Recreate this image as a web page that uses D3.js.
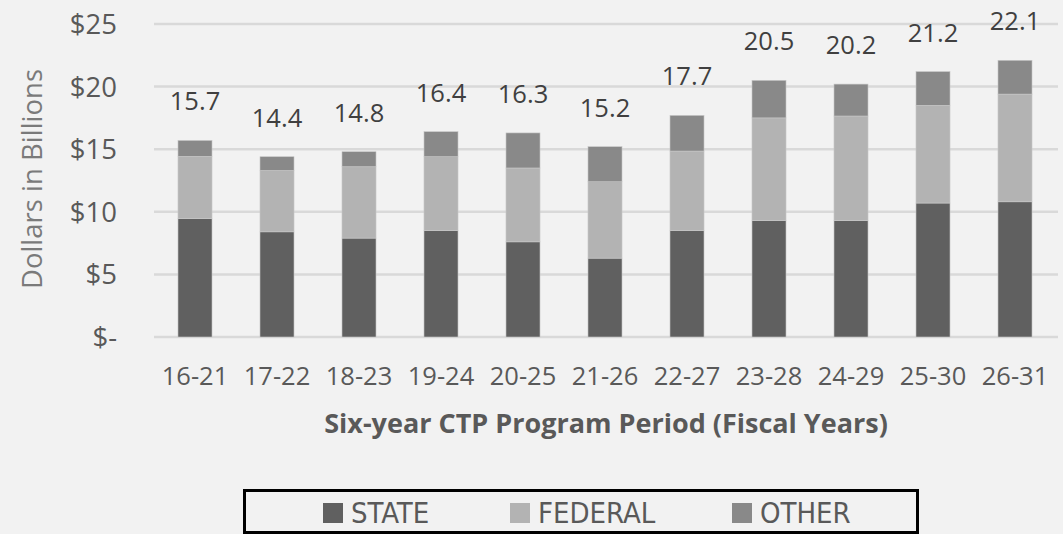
<!DOCTYPE html>
<html>
<head>
<meta charset="utf-8">
<script src="https://cdnjs.cloudflare.com/ajax/libs/d3/7.8.5/d3.min.js"></script>
<style>
  html, body { margin: 0; padding: 0; background: #f2f2f2; }
  svg { display: block; }
</style>
</head>
<body>
<svg id="chart" width="1063" height="534"></svg>
<script>
// ---- data ----
const categories = ["16-21","17-22","18-23","19-24","20-25","21-26","22-27","23-28","24-29","25-30","26-31"];
const stateVals   = [9.45, 8.4, 7.9, 8.5, 7.6, 6.3, 8.5, 9.3, 9.3, 10.7, 10.8];
const federalVals = [4.98, 4.9, 5.7, 5.9, 5.9, 6.1, 6.35, 8.2, 8.35, 7.8, 8.6];
const otherVals   = [1.27, 1.1, 1.2, 2.0, 2.8, 2.8, 2.85, 3.0, 2.55, 2.7, 2.7];
const totalLabels = ["15.7","14.4","14.8","16.4","16.3","15.2","17.7","20.5","20.2","21.2","22.1"];
const seriesNames = ["STATE","FEDERAL","OTHER"];
const yTickValues = [0, 5, 10, 15, 20, 25];
const yTickLabels = ["$-","$5","$10","$15","$20","$25"];
const yAxisTitle = "Dollars in Billions";
const xAxisTitle = "Six-year CTP Program Period (Fiscal Years)";

// ---- styles ----
const colors = { STATE: "#606060", FEDERAL: "#b3b3b3", OTHER: "#898989" };
const font = "'Open Sans', 'Noto Sans', sans-serif";

const svg = d3.select("#chart");
svg.append("rect").attr("width", 1063).attr("height", 534).attr("fill", "#f2f2f2");

const x = d3.scaleBand().domain(categories).range([154, 1056]).paddingInner(0.585).paddingOuter(0.2925);
const y = d3.scaleLinear().domain([0, 25]).range([337, 24]);

// gridlines
svg.append("g").selectAll("line").data(yTickValues).join("line")
  .attr("x1", 154).attr("x2", 1058)
  .attr("y1", d => y(d)).attr("y2", d => y(d))
  .attr("stroke", "#d9d9d9").attr("stroke-width", 2.5);

// y tick labels
svg.append("g").selectAll("text").data(yTickValues).join("text")
  .attr("x", 117).attr("y", d => y(d)).attr("dy", "0.36em")
  .attr("text-anchor", "end")
  .attr("font-family", font).attr("font-size", 27.5).attr("fill", "#595959")
  .text((d, i) => yTickLabels[i]);

// stacked data
const rows = categories.map((c, i) => ({ cat: c, STATE: stateVals[i], FEDERAL: federalVals[i], OTHER: otherVals[i] }));
const stacked = d3.stack().keys(seriesNames)(rows);

svg.append("g").selectAll("g").data(stacked).join("g")
  .attr("fill", d => colors[d.key])
  .selectAll("rect").data(d => d).join("rect")
  .attr("x", d => x(d.data.cat))
  .attr("width", x.bandwidth())
  .attr("y", d => y(d[1]))
  .attr("height", d => y(d[0]) - y(d[1]))
  .attr("stroke", "#c8c8c8").attr("stroke-width", 0.6);

// total labels
svg.append("g").selectAll("text").data(rows).join("text")
  .attr("x", d => x(d.cat) + x.bandwidth() / 2)
  .attr("y", d => y(d.STATE + d.FEDERAL + d.OTHER) - 30)
  .attr("text-anchor", "middle")
  .attr("font-family", font).attr("font-size", 25.5).attr("fill", "#404040")
  .text((d, i) => totalLabels[i]);

// category labels
svg.append("g").selectAll("text").data(categories).join("text")
  .attr("x", d => x(d) + x.bandwidth() / 2)
  .attr("y", 385)
  .attr("text-anchor", "middle")
  .attr("font-family", font).attr("font-size", 25.5).attr("fill", "#595959")
  .text(d => d);

// x axis title
svg.append("text")
  .attr("x", 606).attr("y", 433)
  .attr("text-anchor", "middle")
  .attr("font-family", font).attr("font-size", 27).attr("font-weight", "bold").attr("fill", "#595959")
  .text(xAxisTitle);

// y axis title
svg.append("text")
  .attr("transform", "translate(42,179) rotate(-90)")
  .attr("text-anchor", "middle")
  .attr("font-family", font).attr("font-size", 27.5).attr("fill", "#7a7a7a")
  .text(yAxisTitle);

// legend
const legend = svg.append("g");
legend.append("rect")
  .attr("x", 244.5).attr("y", 490.5).attr("width", 673).attr("height", 42)
  .attr("fill", "none").attr("stroke", "#000").attr("stroke-width", 3);
const legendX = [323, 510, 732];
seriesNames.forEach((name, i) => {
  legend.append("rect")
    .attr("x", legendX[i]).attr("y", 503).attr("width", 20).attr("height", 20)
    .attr("fill", colors[name]);
  legend.append("text")
    .attr("x", legendX[i] + 28).attr("y", 523)
    .attr("font-family", "'DejaVu Sans Condensed', 'DejaVu Sans', sans-serif")
    .attr("font-size", 29).attr("fill", "#595959")
    .text(name);
});
</script>
</body>
</html>
